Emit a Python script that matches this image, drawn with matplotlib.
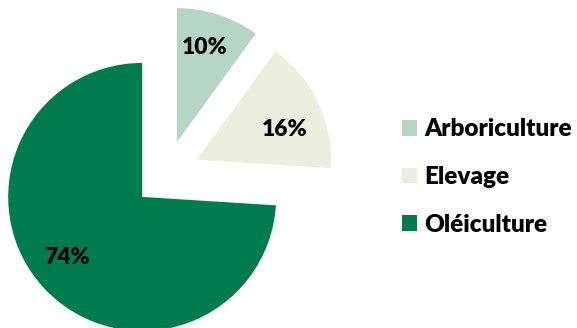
import numpy as np
import matplotlib.pyplot as plt

labels = ["Arboriculture", "Elevage", "Oléiculture"]
shares = [10, 16, 74]
colors = ["#b5d6c5", "#ebefdf", "#007b4d"]

plt.rcParams["font.family"] = ["Lato", "DejaVu Sans"]

fig = plt.figure(figsize=(5.77, 3.28), dpi=100)
ax = fig.add_axes([0, 0, 1, 1])

wedges, texts, autotexts = ax.pie(
    shares,
    colors=colors,
    explode=[0.25, 0.25, 0.25],
    startangle=90,
    counterclock=False,
    autopct="%1.0f%%",
    pctdistance=0.72,
    textprops=dict(fontsize=16.5, fontweight="heavy", color="black"),
)

# nudge the percentage labels the way the original chart has them
label_angle = [73.6, 19.0, -141.0]
label_dist = [0.74, 0.69, 0.72]
for w, t, a, d in zip(wedges, autotexts, label_angle, label_dist):
    cx, cy = w.center
    t.set_position((cx + d * np.cos(np.deg2rad(a)), cy + d * np.sin(np.deg2rad(a))))

# one data unit = pie radius = 134 px; centre sits at (166.6, 174) px
ax.set_xlim(-166.6 / 134, (577 - 166.6) / 134)
ax.set_ylim(-(328 - 174) / 134, 174 / 134)
ax.set_aspect("auto")
ax.axis("off")

leg = ax.legend(
    wedges,
    labels,
    loc="center left",
    bbox_to_anchor=(402 / 577, 1 - 177 / 328),
    frameon=False,
    handlelength=0.62,
    handleheight=0.62,
    handletextpad=0.28,
    labelspacing=1.05,
    borderpad=0,
    borderaxespad=0,
    prop=dict(size=17.5, weight="heavy"),
)

fig.savefig("out.png", dpi=100)
